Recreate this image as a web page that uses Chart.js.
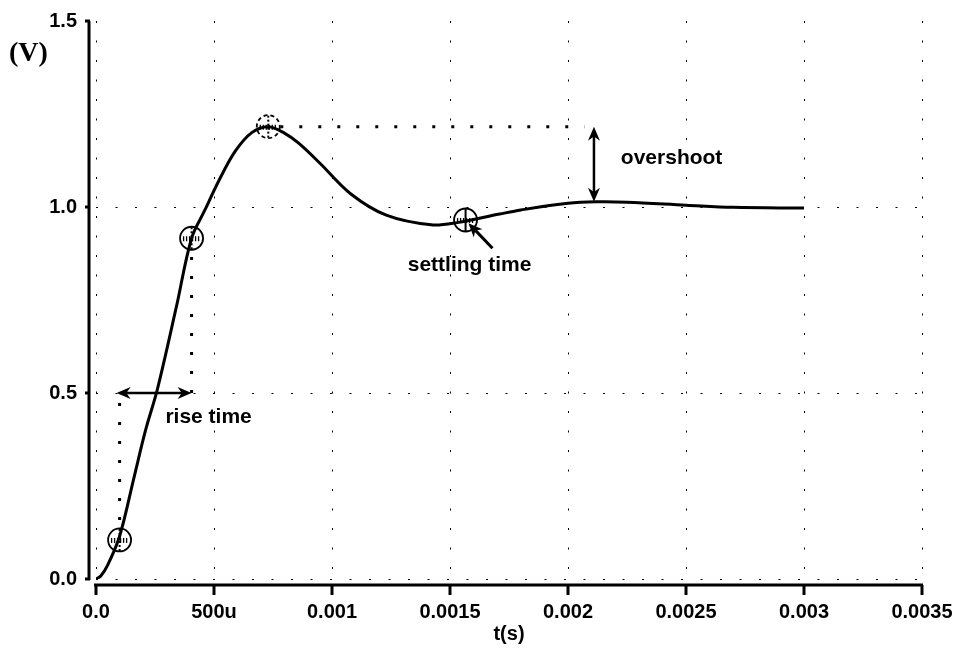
<!DOCTYPE html>
<html>
<head>
<meta charset="utf-8">
<script src="https://cdn.jsdelivr.net/npm/chart.js@4/dist/chart.umd.min.js"></script>
<style>
  body { margin: 0; background: #fff; }
  #wrap { width: 959px; height: 650px; }
</style>
</head>
<body>
<div id="wrap"><canvas id="stepChart" width="959" height="650"></canvas></div>
<script>
// --- Data ---

// step response, time (s) and output (V)
const timeS = [0, 0.00002, 0.00005, 0.0001, 0.00016, 0.00021, 0.00026, 0.00034, 0.000405, 0.00046, 0.00052,
               0.00059, 0.00066, 0.00073, 0.0008, 0.00086, 0.00095, 0.00108, 0.00123, 0.00142, 0.00153, 0.00171, 0.0018,
               0.002, 0.00212, 0.00225, 0.0025, 0.0027, 0.003];
const voltsV = [0, 0.008, 0.038, 0.115, 0.27, 0.40, 0.51, 0.73, 0.916, 0.99, 1.07,
                1.15, 1.2, 1.216, 1.198, 1.171, 1.117, 1.035, 0.978, 0.952, 0.958, 0.981, 0.992,
                1.010, 1.014, 1.013, 1.005, 0.999, 0.997];

// circled markers on the curve
const markerTime = [0.0001, 0.000405, 0.00073, 0.001566];
const markerVolts = [0.105, 0.916, 1.216, 0.965];

// tick labels
const xTickLabels = ['0.0', '500u', '0.001', '0.0015', '0.002', '0.0025', '0.003', '0.0035'];
const yTickLabels = ['0.0', '0.5', '1.0', '1.5'];

// annotation anchors (data units)
const riseLevel = 0.5;
const overshootEnd = 0.00207;
const overshootArrowT = 0.00211;
const overshootLow = 1.014;
const settleArrowFrom = [0.00168, 0.889];
const settleArrowTo = [0.001578, 0.956];

const BOLD = 'bold 20px "Liberation Sans", Arial, sans-serif';
const NOTE = 'bold 21px "Liberation Sans", Arial, sans-serif';

// --- Helpers ---

function arrowHead(ctx, x0, y0, x1, y1) {
    // filled head at (x1, y1) pointing away from (x0, y0)
    const a = Math.atan2(y1 - y0, x1 - x0);
    const len = 14, half = 6;
    ctx.beginPath();
    ctx.moveTo(x1, y1);
    ctx.lineTo(x1 - len * Math.cos(a) + half * Math.sin(a), y1 - len * Math.sin(a) - half * Math.cos(a));
    ctx.lineTo(x1 - len * 0.7 * Math.cos(a), y1 - len * 0.7 * Math.sin(a));
    ctx.lineTo(x1 - len * Math.cos(a) - half * Math.sin(a), y1 - len * Math.sin(a) + half * Math.cos(a));
    ctx.closePath();
    ctx.fill();
}

function line(ctx, x0, y0, x1, y1, width, dash) {
    ctx.save();
    ctx.lineWidth = width;
    ctx.setLineDash(dash || []);
    ctx.beginPath();
    ctx.moveTo(x0, y0);
    ctx.lineTo(x1, y1);
    ctx.stroke();
    ctx.restore();
}

// --- Plugin: axes, markers, annotations ---

const decorations = {
    id: 'decorations',
    afterDatasetsDraw(chart) {
        const ctx = chart.ctx;
        const xs = chart.scales.x, ys = chart.scales.y;
        const area = chart.chartArea;
        const px = v => xs.getPixelForValue(v);
        const py = v => ys.getPixelForValue(v);

        ctx.save();
        ctx.strokeStyle = '#000';
        ctx.fillStyle = '#000';
        ctx.lineCap = 'butt';

        // axis lines offset from the plot area
        const axisY = area.bottom + 6;
        const axisX = area.left - 7;
        line(ctx, area.left - 2, axisY, area.right + 1, axisY, 3);
        xs.ticks.forEach(t => line(ctx, px(t.value), axisY, px(t.value), axisY + 10, 3));
        line(ctx, axisX, area.top, axisX, area.bottom + 1, 3);
        ys.ticks.forEach(t => line(ctx, axisX - 4, py(t.value), axisX + 1, py(t.value), 3));

        // heavy dotted guides
        const m = chart.getDatasetMeta(1).data;
        line(ctx, m[0].x, py(riseLevel) + 10, m[0].x, m[0].y - 12, 3, [3, 16]);
        line(ctx, m[1].x, py(riseLevel), m[1].x, m[1].y + 12, 3, [3, 16]);
        line(ctx, m[2].x + 12, m[2].y, px(overshootEnd), m[2].y, 3, [3, 16]);

        // rise time double arrow
        const ry = py(riseLevel);
        line(ctx, m[0].x + 6, ry, m[1].x - 8, ry, 2.5);
        arrowHead(ctx, m[1].x, ry, m[0].x - 3, ry);
        arrowHead(ctx, m[0].x, ry, m[1].x, ry);

        // overshoot double arrow
        const ox = px(overshootArrowT);
        line(ctx, ox, py(markerVolts[2]) + 8, ox, py(overshootLow) - 8, 2.5);
        arrowHead(ctx, ox, py(overshootLow), ox, py(markerVolts[2]));
        arrowHead(ctx, ox, py(markerVolts[2]), ox, py(overshootLow));

        // settling time arrow
        const sx0 = px(settleArrowFrom[0]), sy0 = py(settleArrowFrom[1]);
        const sx1 = px(settleArrowTo[0]), sy1 = py(settleArrowTo[1]);
        line(ctx, sx0, sy0, sx1 + 7, sy1 + 7, 3);
        arrowHead(ctx, sx0, sy0, sx1, sy1);

        // circled markers
        m.forEach((p, i) => {
            ctx.save();
            ctx.lineWidth = 1.8;
            ctx.setLineDash(i === 2 ? [4, 3] : []);
            ctx.beginPath();
            ctx.arc(p.x, p.y, 11.5, 0, Math.PI * 2);
            ctx.stroke();
            ctx.restore();
            line(ctx, p.x, p.y - 11, p.x, p.y + 11, 2, i === 3 ? [] : [2, 2]);
            for (let dx = -8; dx <= 8; dx += 3) {
                line(ctx, p.x + dx, p.y - 2, p.x + dx, p.y + 3, 1.3);
            }
        });

        // labels
        ctx.font = NOTE;
        ctx.textAlign = 'center';
        ctx.textBaseline = 'alphabetic';
        ctx.fillText('rise time', px(0.000477), py(0.419));
        ctx.fillText('overshoot', px(0.002439), py(1.115));
        ctx.fillText('settling time', px(0.001583), py(0.829));

        ctx.font = BOLD;
        ctx.fillText('t(s)', 509, 640);
        ctx.font = 'bold 28px "Liberation Serif", "Times New Roman", serif';
        ctx.textAlign = 'left';
        ctx.fillText('(V)', 9, 61);
        ctx.restore();
    }
};

// --- Chart ---

const gridColor = hidden => ctx => (ctx.tick && ctx.tick.value === hidden ? 'rgba(0,0,0,0)' : '#000');

new Chart(document.getElementById('stepChart'), {
    type: 'line',
    data: {
        datasets: [{
            data: timeS.map((t, i) => ({ x: t, y: voltsV[i] })),
            borderColor: '#000',
            borderWidth: 3,
            pointRadius: 0,
            tension: 0.35,
            fill: false
        }, {
            data: markerTime.map((t, i) => ({ x: t, y: markerVolts[i] })),
            showLine: false,
            pointRadius: 0
        }]
    },
    options: {
        responsive: false,
        animation: false,
        events: [],
        layout: { padding: { top: 21, right: 37, left: 0, bottom: 0 } },
        plugins: { legend: { display: false }, tooltip: { enabled: false } },
        scales: {
            x: {
                type: 'linear',
                min: 0,
                max: 0.0035,
                afterFit: s => { s.height = 71; s.paddingLeft = 0; s.paddingRight = 0; },
                ticks: {
                    stepSize: 0.0005,
                    autoSkip: false,
                    maxRotation: 0,
                    padding: 21,
                    color: '#000',
                    font: { family: '"Liberation Sans", Arial, sans-serif', size: 20, weight: 'bold' },
                    callback: (v, i) => xTickLabels[i]
                },
                grid: { color: '#000', lineWidth: 1, drawTicks: false },
                border: { display: false, dash: [2, 17.5] }
            },
            y: {
                min: 0,
                max: 1.5,
                afterFit: s => { s.width = 96; s.paddingTop = 0; s.paddingBottom = 0; },
                ticks: {
                    stepSize: 0.5,
                    padding: 19,
                    color: '#000',
                    font: { family: '"Liberation Sans", Arial, sans-serif', size: 20, weight: 'bold' },
                    callback: (v, i) => yTickLabels[i]
                },
                grid: { color: gridColor(1.5), lineWidth: 1, drawTicks: false },
                border: { display: false, dash: [2, 17.5] }
            }
        }
    },
    plugins: [decorations]
});
</script>
</body>
</html>
